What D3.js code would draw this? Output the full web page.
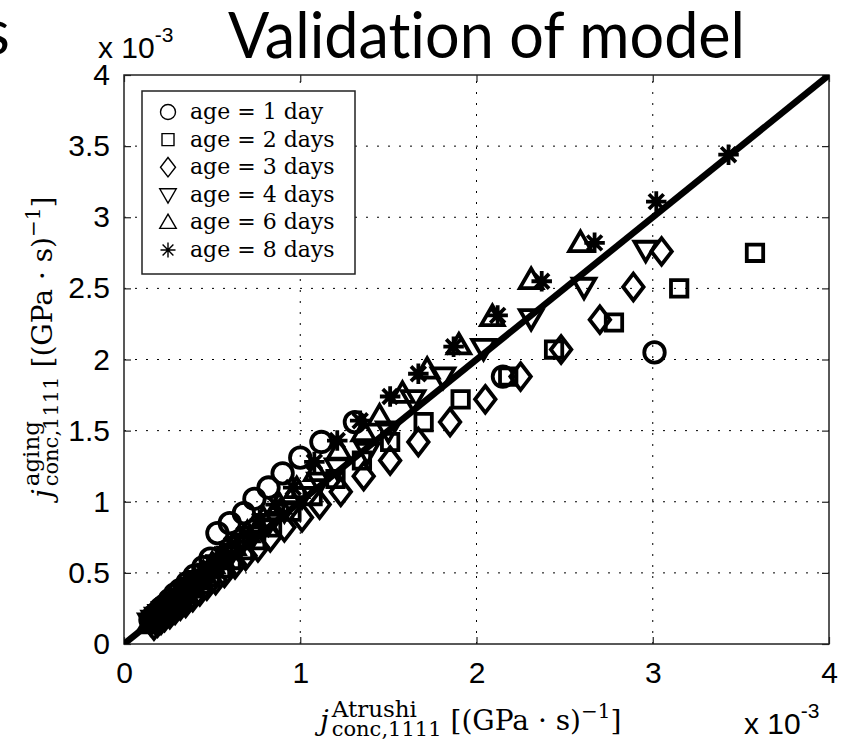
<!DOCTYPE html>
<html>
<head>
<meta charset="utf-8">
<script src="https://cdn.jsdelivr.net/npm/d3@7"></script>
<style>
  html, body { margin: 0; padding: 0; background: #fff; }
  svg { display: block; }
</style>
</head>
<body>
<svg id="svg1" width="846" height="742"></svg>
<script>
// values are in units of 1e-3 (GPa.s)^-1
var age1Days = [[0.15,0.17],[0.17,0.20],[0.19,0.22],[0.21,0.25],[0.23,0.27],[0.26,0.31],[0.29,0.35],[0.32,0.38],
  [0.36,0.43],[0.40,0.48],[0.45,0.54],[0.49,0.60],
  [0.53,0.78],[0.60,0.85],[0.68,0.92],[0.74,1.02],[0.82,1.10],[0.90,1.20],[1.00,1.31],[1.12,1.42],[1.31,1.56],
  [2.15,1.88],[3.01,2.05]];
var age2Days = [[0.15,0.14],[0.17,0.16],[0.19,0.18],[0.21,0.20],[0.23,0.22],[0.26,0.25],[0.29,0.28],[0.32,0.31],
  [0.36,0.35],[0.40,0.39],[0.44,0.42],[0.49,0.47],[0.55,0.53],[0.61,0.59],[0.68,0.66],[0.75,0.73],[0.84,0.82],
  [0.95,0.93],[1.07,1.04],[1.20,1.16],[1.35,1.29],[1.51,1.42],[1.70,1.56],[1.91,1.72],[2.18,1.88],[2.44,2.07],
  [2.78,2.26],[3.15,2.50],[3.58,2.75]];
var age3Days = [[0.17,0.13],[0.19,0.15],[0.21,0.17],[0.23,0.19],[0.26,0.21],[0.29,0.24],[0.32,0.27],[0.35,0.29],
  [0.39,0.33],[0.43,0.37],[0.47,0.41],[0.52,0.45],[0.57,0.50],[0.63,0.56],[0.69,0.62],[0.76,0.68],[0.83,0.75],
  [0.91,0.82],[1.01,0.89],[1.11,0.98],[1.23,1.07],[1.36,1.18],[1.51,1.29],[1.67,1.42],[1.85,1.56],[2.05,1.72],
  [2.25,1.88],[2.48,2.07],[2.70,2.28],[2.89,2.51],[3.05,2.76]];
var age4Days = [[0.15,0.15],[0.17,0.17],[0.19,0.19],[0.21,0.21],[0.23,0.23],[0.26,0.26],[0.29,0.29],[0.32,0.32],
  [0.36,0.36],[0.40,0.40],[0.44,0.45],[0.49,0.50],[0.54,0.56],[0.60,0.62],[0.66,0.69],[0.73,0.76],[0.82,0.85],
  [0.91,0.94],[1.01,1.04],[1.11,1.14],[1.21,1.24],[1.38,1.35],[1.50,1.50],[1.64,1.72],[1.81,1.88],[2.04,2.08],
  [2.31,2.29],[2.61,2.51],[2.96,2.77]];
var age6Days = [[0.15,0.16],[0.17,0.19],[0.19,0.21],[0.21,0.23],[0.23,0.26],[0.26,0.29],[0.29,0.32],[0.32,0.36],
  [0.36,0.40],[0.40,0.45],[0.45,0.50],[0.50,0.56],[0.55,0.61],[0.62,0.69],[0.70,0.78],[0.79,0.88],[0.88,0.98],
  [0.98,1.09],[1.09,1.21],[1.22,1.36],[1.36,1.49],[1.45,1.60],[1.58,1.76],[1.72,1.93],[1.90,2.10],[2.09,2.30],
  [2.31,2.56],[2.59,2.82]];
var age8Days = [[0.15,0.16],[0.17,0.18],[0.19,0.21],[0.21,0.23],[0.23,0.26],[0.26,0.29],[0.29,0.32],[0.32,0.36],
  [0.36,0.40],[0.40,0.45],[0.45,0.51],[0.50,0.57],[0.55,0.63],[0.61,0.70],[0.68,0.77],[0.77,0.87],[0.86,0.98],
  [0.96,1.10],[1.08,1.28],[1.21,1.43],[1.34,1.57],[1.51,1.74],[1.67,1.90],[1.87,2.09],[2.12,2.31],[2.37,2.55],
  [2.67,2.82],[3.02,3.11],[3.43,3.44]];

var seriesLabels = ['age = 1 day','age = 2 days','age = 3 days','age = 4 days','age = 6 days','age = 8 days'];
var seriesShapes = ['circle','square','diamond','triangleDown','triangleUp','asterisk'];
var seriesData = [age1Days, age2Days, age3Days, age4Days, age6Days, age8Days];

var xTicks = [0, 1, 2, 3, 4];
var yTicks = [0, 0.5, 1, 1.5, 2, 2.5, 3, 3.5, 4];
var yTickLabels = ['0','0.5','1','1.5','2','2.5','3','3.5','4'];
var fitLine = [[0, 0], [4, 4]];

var svg = d3.select('#svg1');

var plotLeft = 124, plotRight = 829, plotTop = 75, plotBottom = 644;
var x = d3.scaleLinear().domain([0, 4]).range([plotLeft, plotRight]);
var y = d3.scaleLinear().domain([0, 4]).range([plotBottom, plotTop]);

var sansFont = '"Liberation Sans", Arial, sans-serif';
var serifFont = '"DejaVu Serif", serif';

// marker outlines, s = overall size
function markerPath(shape, s) {
  var p = d3.path();
  var h = s / 2;
  if (shape == 'circle') {
    p.moveTo(h, 0); p.arc(0, 0, h, 0, 2 * Math.PI);
  } else if (shape == 'square') {
    var a = h * 0.8;
    p.rect(-a, -a, 2 * a, 2 * a);
  } else if (shape == 'diamond') {
    p.moveTo(0, -h * 1.3); p.lineTo(h, 0); p.lineTo(0, h * 1.3); p.lineTo(-h, 0); p.closePath();
  } else if (shape == 'triangleDown') {
    p.moveTo(-h * 1.1, -h * 0.8); p.lineTo(h * 1.1, -h * 0.8); p.lineTo(0, h * 1.1); p.closePath();
  } else if (shape == 'triangleUp') {
    p.moveTo(0, -h * 1.1); p.lineTo(h * 1.1, h * 0.8); p.lineTo(-h * 1.1, h * 0.8); p.closePath();
  } else if (shape == 'asterisk') {
    var d = h * 0.72;
    p.moveTo(-h, 0); p.lineTo(h, 0);
    p.moveTo(0, -h); p.lineTo(0, h);
    p.moveTo(-d, -d); p.lineTo(d, d);
    p.moveTo(-d, d); p.lineTo(d, -d);
  }
  return p.toString();
}

// title and the cut off letter from the slide
svg.append('text')
  .attr('x', -17).attr('y', 54)
  .attr('font-family', 'Lato, sans-serif').attr('font-size', 62)
  .text('s');
svg.append('text')
  .attr('x', 228).attr('y', 58)
  .attr('font-family', 'Lato, sans-serif').attr('font-size', 63)
  .attr('textLength', 517).attr('lengthAdjust', 'spacingAndGlyphs')
  .style('font-variant-ligatures', 'none')
  .text('Validation of model');

// grid
var grid = svg.append('g').attr('stroke', '#000').attr('stroke-width', 1).attr('stroke-dasharray', '2,9');
grid.selectAll('.gx').data(xTicks.slice(1, -1)).enter().append('line')
  .attr('x1', function(d){ return x(d); }).attr('x2', function(d){ return x(d); })
  .attr('y1', plotBottom).attr('y2', plotTop);
grid.selectAll('.gy').data(yTicks.slice(1, -1)).enter().append('line')
  .attr('y1', function(d){ return y(d); }).attr('y2', function(d){ return y(d); })
  .attr('x1', plotLeft).attr('x2', plotRight);

// axes, ticks point inwards like matlab
var xAxis = svg.append('g').attr('transform', 'translate(0,' + plotBottom + ')')
  .call(d3.axisBottom(x).tickValues(xTicks).tickSizeInner(-7).tickSizeOuter(0).tickPadding(18).tickFormat(d3.format('d')));
var yAxis = svg.append('g').attr('transform', 'translate(' + plotLeft + ',0)')
  .call(d3.axisLeft(y).tickValues(yTicks).tickSizeInner(-7).tickSizeOuter(0).tickPadding(14)
    .tickFormat(function(d, i){ return yTickLabels[i]; }));
var xAxisTop = svg.append('g').attr('transform', 'translate(0,' + plotTop + ')')
  .call(d3.axisTop(x).tickValues(xTicks).tickSizeInner(-7).tickSizeOuter(0).tickFormat(''));
var yAxisRight = svg.append('g').attr('transform', 'translate(' + plotRight + ',0)')
  .call(d3.axisRight(y).tickValues(yTicks).tickSizeInner(-7).tickSizeOuter(0).tickFormat(''));

[xAxis, yAxis, xAxisTop, yAxisRight].forEach(function(g) {
  g.select('.domain').remove();
  g.selectAll('.tick line').attr('stroke', '#222').attr('stroke-width', 1.2);
  g.selectAll('.tick text').attr('font-family', sansFont).attr('font-size', 30).attr('fill', '#000');
});

svg.append('rect')
  .attr('x', plotLeft).attr('y', plotTop).attr('width', plotRight - plotLeft).attr('height', plotBottom - plotTop)
  .attr('fill', 'none').attr('stroke', '#222').attr('stroke-width', 1.5);

// markers
var marks = svg.append('g');
seriesData.forEach(function(data, i) {
  marks.append('g').selectAll('path')
    .data(data)
    .enter()
    .append('path')
    .attr('transform', function(d){ return 'translate(' + x(d[0]) + ',' + y(d[1]) + ')'; })
    .attr('d', markerPath(seriesShapes[i], 20.5))
    .attr('fill', 'none')
    .attr('stroke', '#000')
    .attr('stroke-width', 3.8)
    .attr('stroke-linejoin', 'miter');
});

// model line, clipped to the axes box
svg.append('clipPath').attr('id', 'plotClip')
  .append('rect').attr('x', plotLeft).attr('y', plotTop).attr('width', plotRight - plotLeft).attr('height', plotBottom - plotTop);
svg.append('path')
  .datum(fitLine)
  .attr('clip-path', 'url(#plotClip)')
  .attr('d', d3.line().x(function(d){ return x(d[0]); }).y(function(d){ return y(d[1]); }))
  .attr('stroke', '#000').attr('stroke-width', 6.5).attr('fill', 'none');

// legend
var legend = svg.append('g');
legend.append('rect')
  .attr('x', 142).attr('y', 91).attr('width', 213).attr('height', 183)
  .attr('fill', '#fff').attr('stroke', '#222').attr('stroke-width', 1.5);
seriesLabels.forEach(function(label, i) {
  var ly = 112 + i * 27.6;
  legend.append('path')
    .attr('transform', 'translate(168,' + ly + ')')
    .attr('d', markerPath(seriesShapes[i], 15))
    .attr('fill', 'none').attr('stroke', '#000').attr('stroke-width', 1.4);
  legend.append('text')
    .attr('x', 190).attr('y', ly + 7)
    .attr('font-family', serifFont).attr('font-size', 22)
    .text(label);
});

// "x 10^-3" exponent labels
function exponentLabel(xp, yp) {
  var t = svg.append('text').attr('x', xp).attr('y', yp)
    .attr('font-family', sansFont).attr('font-size', 30);
  t.append('tspan').text('x 10');
  t.append('tspan').attr('font-size', 21).attr('dy', -16).text('-3');
}
exponentLabel(98, 58);
exponentLabel(744, 734);

// axis labels with stacked super / sub scripts
function buildLabel(g, supText) {
  var jw = g.append('text').attr('x', 0).attr('y', 0)
    .attr('font-family', serifFont).attr('font-size', 28).attr('font-style', 'italic')
    .text('j').node().getComputedTextLength();
  var sx = jw + 3;
  var sup = g.append('text').attr('x', sx).attr('y', -13)
    .attr('font-family', serifFont).attr('font-size', 23).text(supText);
  var sub = g.append('text').attr('x', sx).attr('y', 6)
    .attr('font-family', serifFont).attr('font-size', 21).text('conc,1111');
  var w = Math.max(sup.node().getComputedTextLength(), sub.node().getComputedTextLength());
  var main = g.append('text').attr('x', sx + w + 9).attr('y', 0)
    .attr('font-family', serifFont).attr('font-size', 28);
  main.append('tspan').text('[(GPa \u00b7 s)');
  main.append('tspan').attr('font-size', 20).attr('dy', -12).text('\u22121');
  main.append('tspan').attr('dy', 12).text(']');
}
buildLabel(svg.append('g').attr('transform', 'translate(320,730)'), 'Atrushi');
buildLabel(svg.append('g').attr('transform', 'translate(52,498) rotate(-90)'), 'aging');
</script>
</body>
</html>
